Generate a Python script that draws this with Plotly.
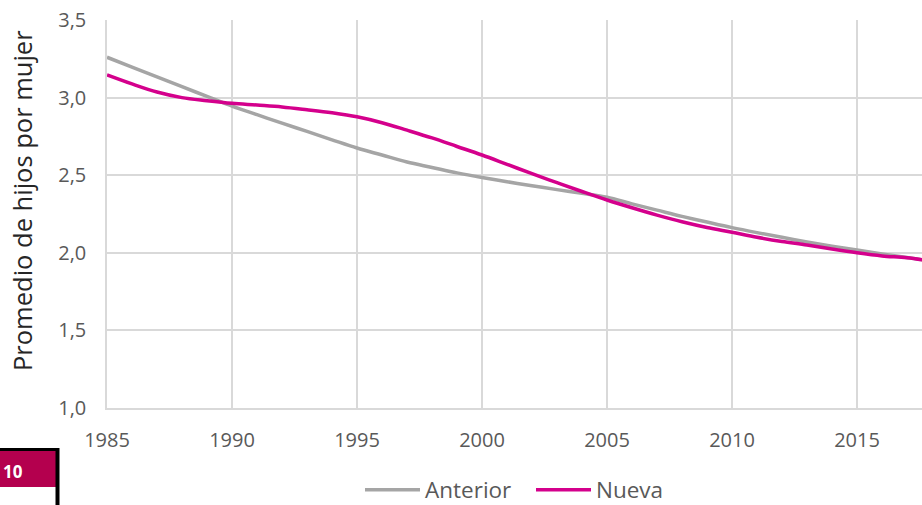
import plotly.graph_objects as go

# años y tasas globales de fecundidad
years = list(range(1985, 2019))

anterior = [3.26, 3.197, 3.134, 3.07, 3.008, 2.945,
            2.89, 2.835, 2.782, 2.728, 2.675,
            2.63, 2.585, 2.55, 2.515, 2.485,
            2.458, 2.432, 2.407, 2.383, 2.358,
            2.315, 2.275, 2.235, 2.198, 2.162,
            2.13, 2.1, 2.07, 2.043, 2.018,
            1.993, 1.97, 1.945]

nueva = [3.146, 3.088, 3.036, 3.0, 2.98, 2.963,
         2.952, 2.94, 2.922, 2.902, 2.876,
         2.838, 2.79, 2.74, 2.685, 2.63,
         2.57, 2.51, 2.452, 2.395, 2.34,
         2.29, 2.243, 2.2, 2.163, 2.132,
         2.1, 2.073, 2.05, 2.024, 2.0,
         1.98, 1.968, 1.945]

xticks = [1985, 1990, 1995, 2000, 2005, 2010, 2015]
yticks = [1.0, 1.5, 2.0, 2.5, 3.0, 3.5]

W, H = 922, 505
L, R, T, B = 107, 0, 20, 97
pw, ph = W - L - R, H - T - B

def px(x):
    return (x - L) / pw

def py(y):
    return (H - B - y) / ph

fig = go.Figure()
fig.add_trace(go.Scatter(x=years, y=anterior, mode="lines", name="Anterior",
                         line=dict(color="#A5A5A5", width=3.5, shape="spline")))
fig.add_trace(go.Scatter(x=years, y=nueva, mode="lines", name="Nueva",
                         line=dict(color="#D4008C", width=3.5, shape="spline")))

font = "Open Sans, Noto Sans, sans-serif"

fig.update_layout(
    width=W, height=H,
    margin=dict(l=L, r=R, t=T, b=B, autoexpand=False),
    plot_bgcolor="white", paper_bgcolor="white",
    separators=",.",
    font=dict(family=font, size=20, color="#595959"),
    showlegend=True,
    legend=dict(orientation="h", x=px(360), y=py(490), xanchor="left", yanchor="middle",
                font=dict(size=22.5, color="#595959"), itemwidth=55, tracegroupgap=0,
                entrywidth=101, entrywidthmode="pixels"),
    xaxis=dict(range=[1985, 2017.6], tickvals=xticks, showgrid=True, gridcolor="#D9D9D9",
               gridwidth=1.5, showline=True, linecolor="#D9D9D9", linewidth=1.5,
               zeroline=False, ticks="", ticklabelstandoff=13,
               tickfont=dict(size=20, color="#595959")),
    yaxis=dict(range=[1.0, 3.5], tickvals=yticks, tickformat=".1f", showgrid=True,
               gridcolor="#D9D9D9", gridwidth=1.5, showline=True, linecolor="#D9D9D9",
               linewidth=1.5, zeroline=False, ticks="", ticklabelstandoff=15,
               tickfont=dict(size=20, color="#595959")),
)

fig.add_annotation(text="Promedio de hijos por mujer", textangle=-90,
                   xref="paper", yref="paper", x=px(22), y=py(201),
                   xanchor="center", yanchor="middle", showarrow=False,
                   font=dict(size=25.5, color="#262626"))

# recorte de tabla en la esquina inferior izquierda
fig.add_shape(type="rect", xref="paper", yref="paper",
              x0=px(-5), x1=px(56), y0=py(487), y1=py(450),
              fillcolor="#B4004E", line=dict(width=0), layer="above")
fig.add_shape(type="line", xref="paper", yref="paper",
              x0=px(-5), x1=px(59), y0=py(449.5), y1=py(449.5),
              line=dict(color="black", width=3))
fig.add_shape(type="line", xref="paper", yref="paper",
              x0=px(57.5), x1=px(57.5), y0=py(448), y1=py(510),
              line=dict(color="black", width=4))
fig.add_annotation(text="<b>10</b>", xref="paper", yref="paper",
                   x=px(1), y=py(471), xanchor="left", yanchor="middle",
                   showarrow=False, font=dict(size=17, color="white"))

fig.write_html("out.html", config={"displayModeBar": False},
               post_script="document.body.style.margin='0px';")
